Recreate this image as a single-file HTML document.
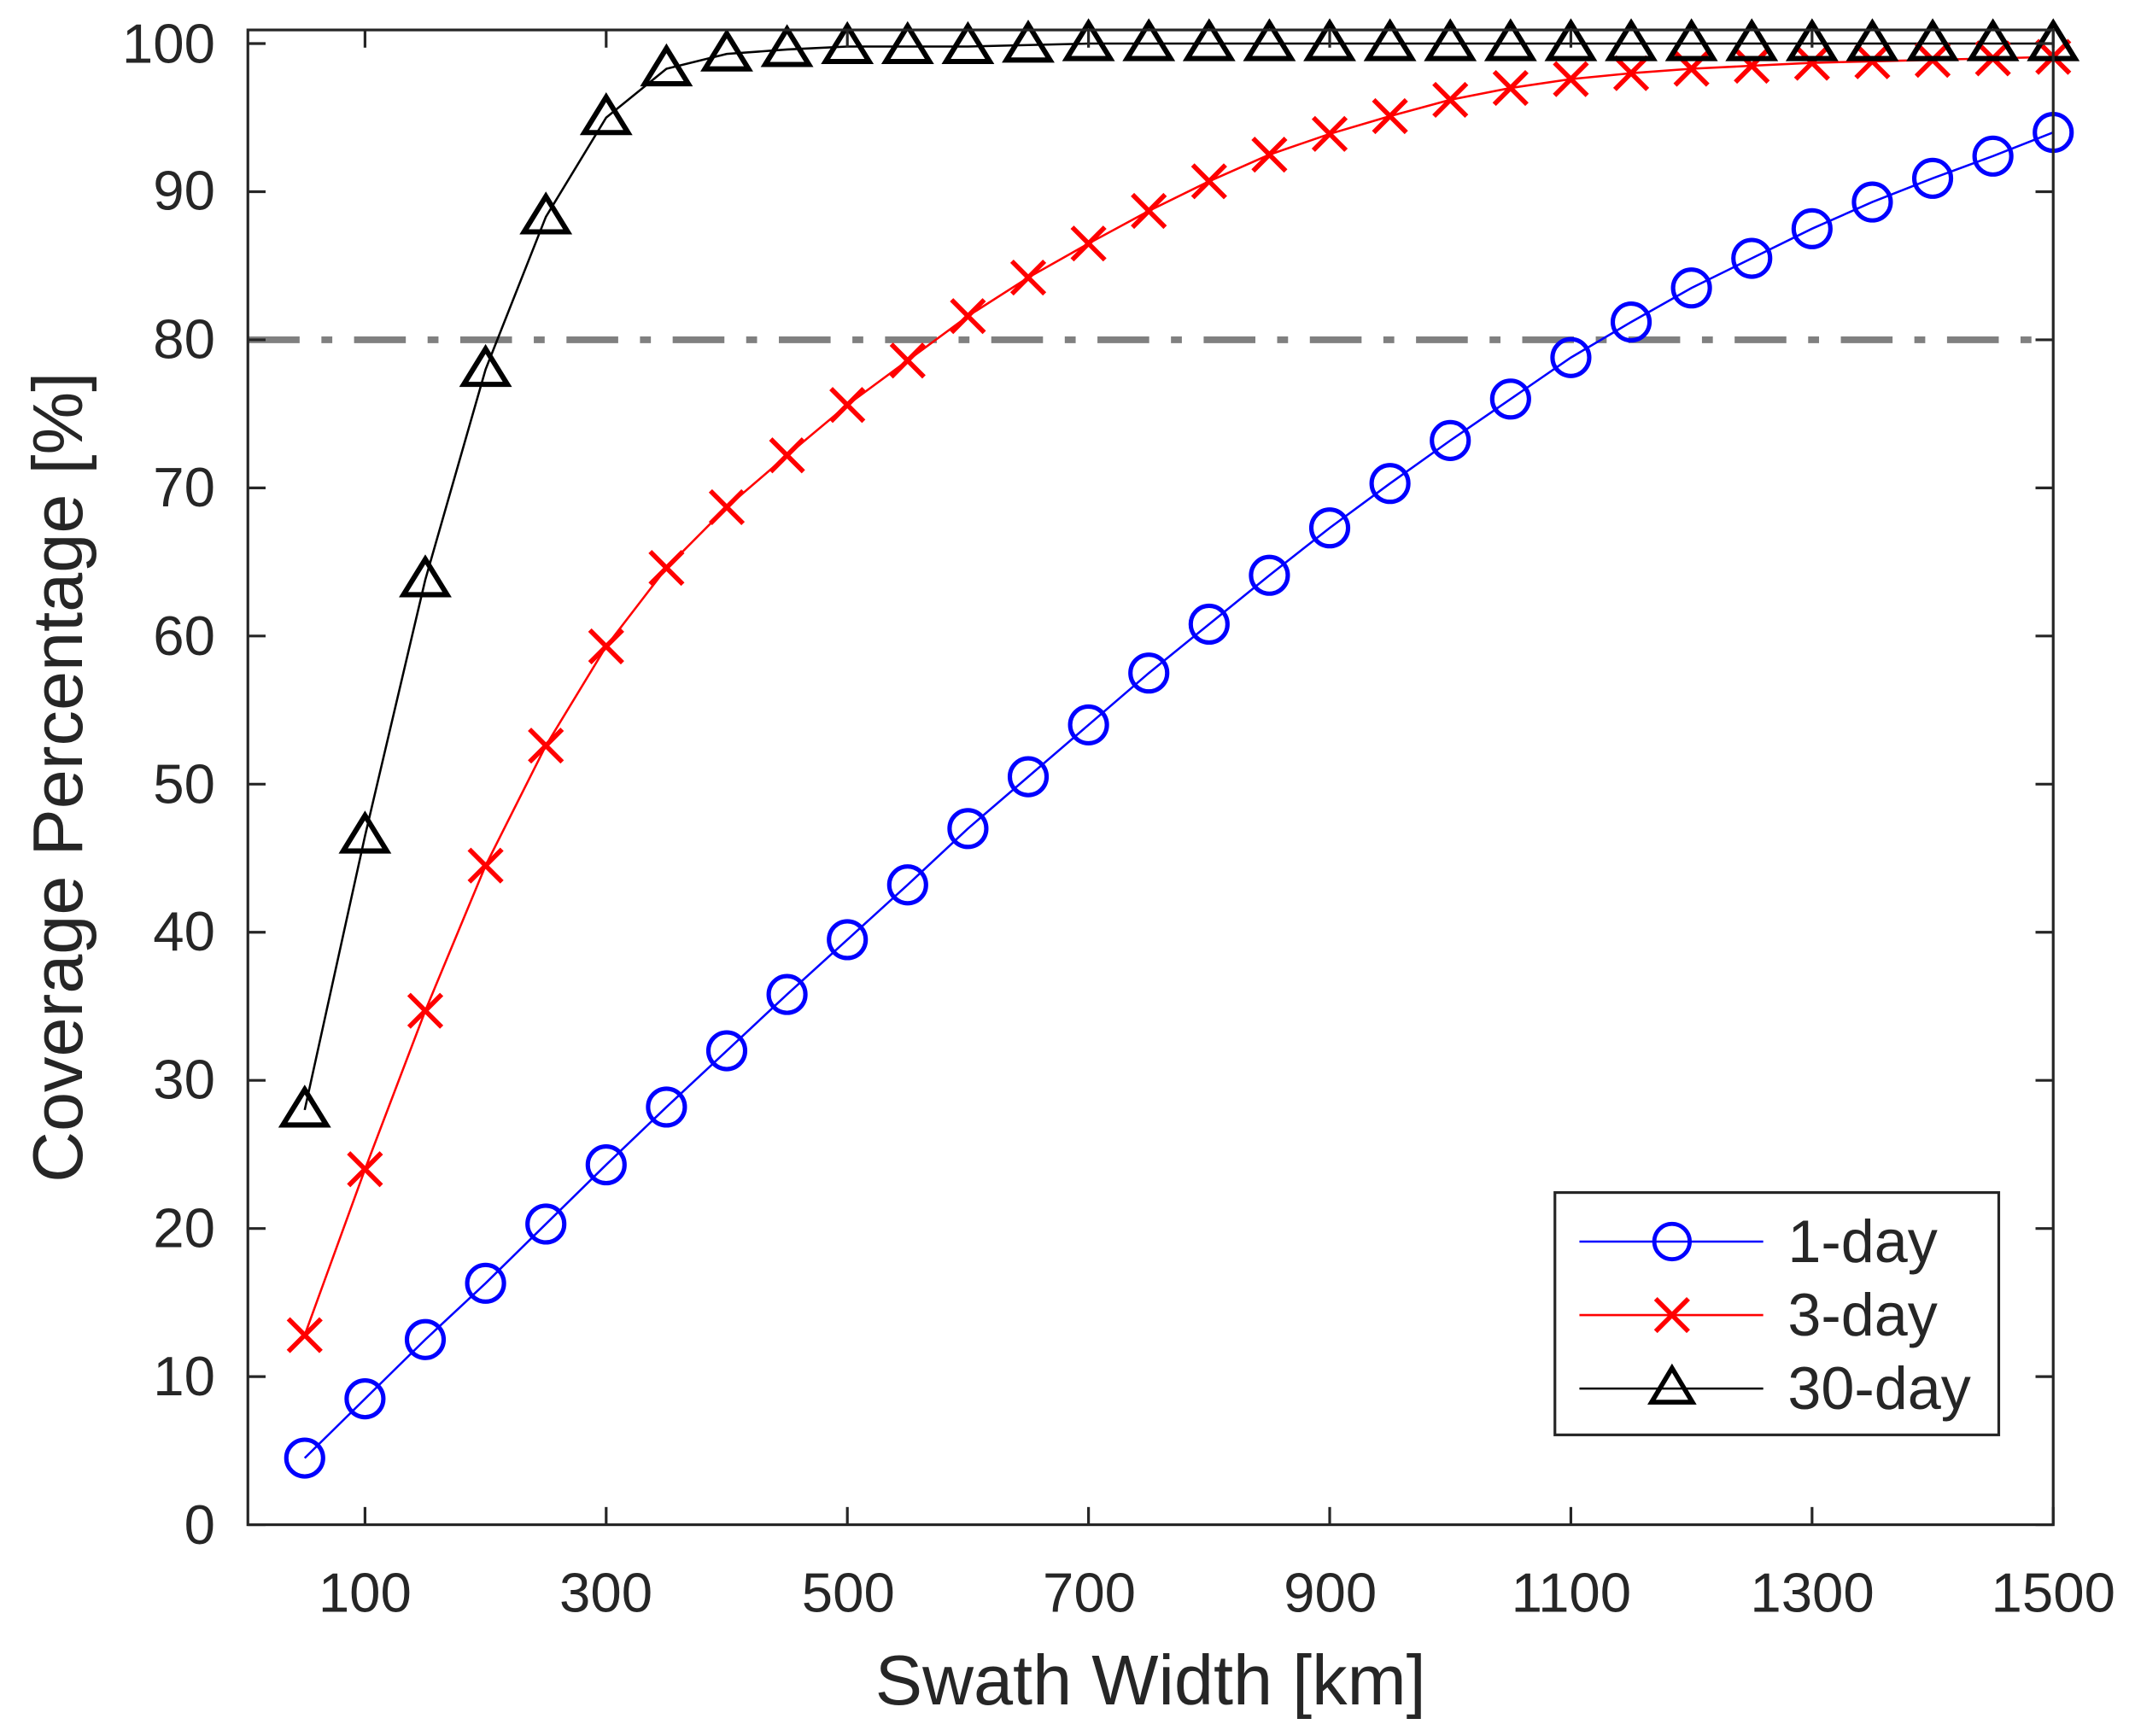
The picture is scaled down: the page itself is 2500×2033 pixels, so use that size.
<!DOCTYPE html>
<html><head><meta charset="utf-8"><style>
html,body{margin:0;padding:0;background:#fff;}
svg{display:block;}
text{font-family:"Liberation Sans",Arial,sans-serif;fill:#262626;}
</style></head><body>
<svg id="s" width="2500" height="2033" viewBox="0 0 1568 1275.2" xmlns="http://www.w3.org/2000/svg">
<rect x="0" y="0" width="1568" height="1276" fill="#fff"/>
<line x1="182" y1="249.6" x2="1508" y2="249.6" stroke="#808080" stroke-width="5" stroke-dasharray="38 16 8 16"/>
<g id="series"></g>
<rect x="182" y="22" width="1326" height="1098" fill="none" stroke="#262626" stroke-width="2"/>
<g id="ticks" stroke="#262626" stroke-width="2"></g>
<g font-size="41" text-anchor="end">
<text x="158" y="1134">0</text>
<text x="158" y="1025">10</text>
<text x="158" y="916">20</text>
<text x="158" y="807">30</text>
<text x="158" y="698">40</text>
<text x="158" y="590">50</text>
<text x="158" y="481">60</text>
<text x="158" y="372">70</text>
<text x="158" y="263">80</text>
<text x="158" y="154">90</text>
<text x="158" y="46">100</text>
</g>
<g font-size="41" text-anchor="middle">
<text x="268" y="1184">100</text>
<text x="445" y="1184">300</text>
<text x="623" y="1184">500</text>
<text x="800" y="1184">700</text>
<text x="977" y="1184">900</text>
<text x="1154" y="1184">1100</text>
<text x="1331" y="1184">1300</text>
<text x="1508" y="1184">1500</text>
</g>
<text x="845" y="1252" font-size="52" text-anchor="middle">Swath Width [km]</text>
<text transform="translate(60,571) rotate(-90)" font-size="52" text-anchor="middle">Coverage Percentage [%]</text>
<rect x="1142" y="876" width="326" height="178" fill="#fff" stroke="#262626" stroke-width="2"/>
<line x1="1160" y1="912" x2="1295" y2="912" stroke="#0000ff" stroke-width="1.6"/>
<circle cx="1228" cy="912" r="13" fill="none" stroke="#0000ff" stroke-width="3"/>
<line x1="1160" y1="966" x2="1295" y2="966" stroke="#ff0000" stroke-width="1.6"/>
<path d="M1216 954 L1240 978 M1216 978 L1240 954" stroke="#ff0000" stroke-width="3.5"/>
<line x1="1160" y1="1020" x2="1295" y2="1020" stroke="#000" stroke-width="1.6"/>
<path d="M1228 1005 L1243 1030 L1213 1030 Z" fill="none" stroke="#000" stroke-width="3.5"/>
<g font-size="44">
<text x="1313" y="927">1-day</text>
<text x="1313" y="981">3-day</text>
<text x="1313" y="1035">30-day</text>
</g>
</svg>
<script>
var NS="http://www.w3.org/2000/svg";
function X(v){return 1508-(1500-v)*0.8857;}
function Y(v){return 1120-v*10.88;}
var d1=[4.5,8.5,12.5,16.3,20.3,24.3,28.2,32,35.8,39.5,43.2,47,50.5,54,57.5,60.8,64.1,67.3,70.3,73.2,76,78.8,81.2,83.5,85.5,87.5,89.3,90.9,92.4,94];
var d3=[12.8,24,34.7,44.5,52.6,59.3,64.6,68.7,72.2,75.6,78.6,81.6,84.2,86.5,88.7,90.7,92.5,93.9,95.1,96.2,97,97.6,98,98.3,98.5,98.7,98.8,98.9,99,99.1];
var d30=[28,46.5,63.8,78,88.3,95,98.3,99.3,99.6,99.8,99.8,99.8,99.9,100,100,100,100,100,100,100,100,100,100,100,100,100,100,100,100,100];
var g=document.getElementById("series");
function el(t,a){var e=document.createElementNS(NS,t);for(var k in a)e.setAttribute(k,a[k]);g.appendChild(e);return e;}
function line(d,c){var p="";for(var i=0;i<d.length;i++){p+=(i?"L":"M")+X(50+50*i)+" "+Y(d[i]);}el("path",{d:p,fill:"none",stroke:c,"stroke-width":1.6});}
line(d1,"#0000ff");line(d3,"#ff0000");line(d30,"#000");
for(var i=0;i<30;i++){var x=X(50+50*i);
 el("circle",{cx:x,cy:Y(d1[i]),r:13.5,fill:"none",stroke:"#0000ff","stroke-width":3.2});
 var y=Y(d3[i]);
 el("path",{d:"M"+(x-12)+" "+(y-12)+"L"+(x+12)+" "+(y+12)+"M"+(x-12)+" "+(y+12)+"L"+(x+12)+" "+(y-12),stroke:"#ff0000","stroke-width":3.5});
 y=Y(d30[i]);
 el("path",{d:"M"+x+" "+(y-15)+"L"+(x+16)+" "+(y+11)+"L"+(x-16)+" "+(y+11)+"Z",fill:"none",stroke:"#000","stroke-width":3.8});
}
var t=document.getElementById("ticks");
function tl(a,b,c,d){var e=document.createElementNS(NS,"line");e.setAttribute("x1",a);e.setAttribute("y1",b);e.setAttribute("x2",c);e.setAttribute("y2",d);t.appendChild(e);}
for(var v=100;v<=1500;v+=200){var x=X(v);tl(x,1120,x,1107);tl(x,22,x,35);}
for(var v=0;v<=100;v+=10){var y=Y(v);tl(182,y,195,y);tl(1508,y,1495,y);}
</script>
</body></html>
